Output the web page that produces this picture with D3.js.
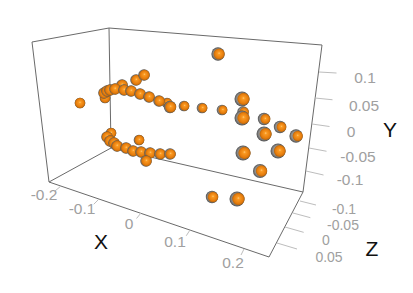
<!DOCTYPE html>
<html>
<head>
<meta charset="utf-8">
<script src="https://cdn.jsdelivr.net/npm/d3@7"></script>
<style>
html, body { margin: 0; padding: 0; background: #fff; }
svg { display: block; }
text { font-family: "Liberation Sans", Arial, sans-serif; }
</style>
</head>
<body>
<svg></svg>
<script>
const width = 413;
const height = 293;

// projected position of each point on the picture plane, with its depth
const pointX = [-0.056, 0.034, -0.09, -0.092, -0.086, -0.08, -0.07, -0.052, -0.038, -0.02, -0.002, 0.018, 0.04,
    -0.14, -0.028, -0.012, 0.068, 0.104, 0.144, 0.136, 0.184, 0.186, 0.184, 0.228, 0.26, 0.292, 0.228, 0.186, 0.256, 0.22, 0.124, 0.174,
    -0.078, -0.086, -0.08, -0.072, -0.066, -0.048, -0.034, -0.018, 0, 0.02, 0.04, -0.022, -0.008];
const pointY = [0.08, 0.044, 0.054, 0.064, 0.068, 0.07, 0.072, 0.07, 0.068, 0.062, 0.056, 0.048, 0.036,
    0.044, 0.09, 0.1, 0.038, 0.034, 0.03, 0.142, 0.052, 0.026, 0.014, 0.012, -0.004, -0.022, -0.018, -0.056, -0.052, -0.092, -0.144, -0.148,
    -0.016, -0.024, -0.032, -0.036, -0.042, -0.046, -0.052, -0.054, -0.056, -0.058, -0.058, -0.03, -0.072];
const pointZ = [-0.05, -0.075, -0.075, -0.05, -0.05, -0.05, -0.05, -0.05, -0.05, -0.05, -0.05, -0.05, -0.025,
    -0.075, -0.05, -0.05, -0.075, -0.075, -0.075, 0, 0.05, -0.05, 0.05, -0.025, -0.025, 0, 0.05, 0.05, 0.05, 0.025, -0.025, 0.05,
    -0.075, -0.05, -0.05, -0.05, -0.05, -0.05, -0.05, -0.05, -0.05, -0.05, -0.05, -0.075, -0.05];

const xTicks = [-0.2, -0.1, 0, 0.1, 0.2];
const yTicks = [-0.1, -0.05, 0, 0.05, 0.1];
const zTicks = [-0.1, -0.05, 0, 0.05];

const viewX = d3.scaleLinear().domain([-0.3, 0.3]).range([0, 300]);
const viewY = d3.scaleLinear().domain([-0.25, 0.25]).range([250, 0]);
const radius = d3.scaleLinear().domain([-0.1, 0.05]).range([4.9, 7.5]);
// how far the orange ball slides off the grey one, as a share of radius
const shift = d3.scaleLinear().domain([-0.14, 0.29]).range([0, 0.26]);

// tick spacing shrinks with distance so every axis is piecewise
const xAxisX = d3.scaleLinear().domain(xTicks).range([61, 99, 141, 190, 244]);
const xAxisY = d3.scaleLinear().domain(xTicks).range([186, 199, 213, 230, 249]);
const yAxisX = d3.scaleLinear().domain(yTicks).range([306, 309, 312, 315, 319]);
const yAxisY = d3.scaleLinear().domain(yTicks).range([171, 148, 124, 98, 72]);
const zAxisX = d3.scaleLinear().domain(zTicks).range([300, 293, 285, 277]);
const zAxisY = d3.scaleLinear().domain(zTicks).range([201, 213, 227, 243]);

const svg = d3.select('svg')
    .attr('width', width).attr('height', height);

const defs = svg.append('defs');
addBall('orangeBall', [[0, '#ffc878'], [0.22, '#fa9a22'], [0.75, '#e67c0c'], [1, '#b0640f']]);
addBall('greyBall', [[0, '#b4b4b4'], [0.7, '#8e8e8e'], [1, '#505050']]);

drawBox();
drawTicks();
drawPoints();

function addBall(id, stops) {
    const gradient = defs.append('radialGradient')
        .attr('id', id)
        .attr('cx', '50%').attr('cy', '50%').attr('r', '50%')
        .attr('fx', '50%').attr('fy', '42%');
    stops.forEach(s => {
        gradient.append('stop').attr('offset', s[0]).attr('stop-color', s[1]);
    });
}

function drawBox() {
    const edges = [
        [[32, 42], [109, 28], [322, 45], [303, 192], [111, 148], [49, 182], [32, 42]],
        [[109, 28], [111, 148]],
        [[49, 182], [269, 257], [303, 192]]
    ];
    svg.append('g').selectAll('path')
        .data(edges)
        .enter().append('path')
        .attr('d', d3.line())
        .attr('fill', 'none')
        .attr('stroke', '#6a6a6a')
        .attr('stroke-width', 1);
}

function drawTicks() {
    const tick = (values, sx, sy, dx, dy) => {
        svg.append('g').selectAll('line')
            .data(values)
            .enter().append('line')
            .attr('x1', sx).attr('y1', sy)
            .attr('x2', d => sx(d) + dx(d)).attr('y2', d => sy(d) + dy(d))
            .attr('stroke', '#bdbdbd')
            .attr('stroke-width', 1);
    };
    tick(xTicks, xAxisX, xAxisY, d3.scaleLinear().domain([-0.2, 0.2]).range([-6, -3]), d3.scaleLinear().domain([-0.2, 0.2]).range([5, 6]));
    tick(yTicks, yAxisX, yAxisY, () => 17.5, d3.scaleLinear().domain([-0.1, 0.1]).range([4, 1]));
    tick(zTicks, zAxisX, zAxisY, d3.scaleLinear().domain([-0.1, 0.05]).range([16, 20]), d3.scaleLinear().domain([-0.1, 0.05]).range([4, 6]));

    const label = (values, px, py, size) => {
        svg.append('g').selectAll('text')
            .data(values)
            .enter().append('text')
            .attr('x', (d, i) => px[i])
            .attr('y', (d, i) => py[i])
            .attr('text-anchor', 'middle')
            .attr('dominant-baseline', 'central')
            .attr('font-size', size)
            .attr('fill', '#a0a0a0')
            .text(d => d);
    };
    label(xTicks, [44, 82, 129, 175, 233], [194, 208, 223, 241, 262], 15.5);
    label(yTicks, [350, 358, 351, 364, 365], [179, 156, 131, 105, 77], 15.5);
    label(zTicks, [344, 343, 326, 329], [209, 225, 240, 257], 14);

    svg.append('g').selectAll('text')
        .data([['X', 101, 241], ['Y', 390, 129], ['Z', 372, 248]])
        .enter().append('text')
        .attr('x', d => d[1]).attr('y', d => d[2])
        .attr('text-anchor', 'middle')
        .attr('dominant-baseline', 'central')
        .attr('font-size', 21)
        .attr('fill', '#111')
        .text(d => d[0]);
}

function drawPoints() {
    const balls = svg.append('g').selectAll('g')
        .data(pointX.map((x, i) => ({ x: x, y: pointY[i], z: pointZ[i] })))
        .enter().append('g')
        .attr('transform', d => `translate(${viewX(d.x)},${viewY(d.y)})`);
    balls.append('circle')
        .attr('r', d => radius(d.z))
        .attr('fill', 'url(#greyBall)');
    balls.append('circle')
        .attr('cx', d => radius(d.z) * shift(d.x))
        .attr('r', d => radius(d.z) * (0.97 - 0.75 * shift(d.x)))
        .attr('fill', 'url(#orangeBall)');
}
</script>
</body>
</html>
